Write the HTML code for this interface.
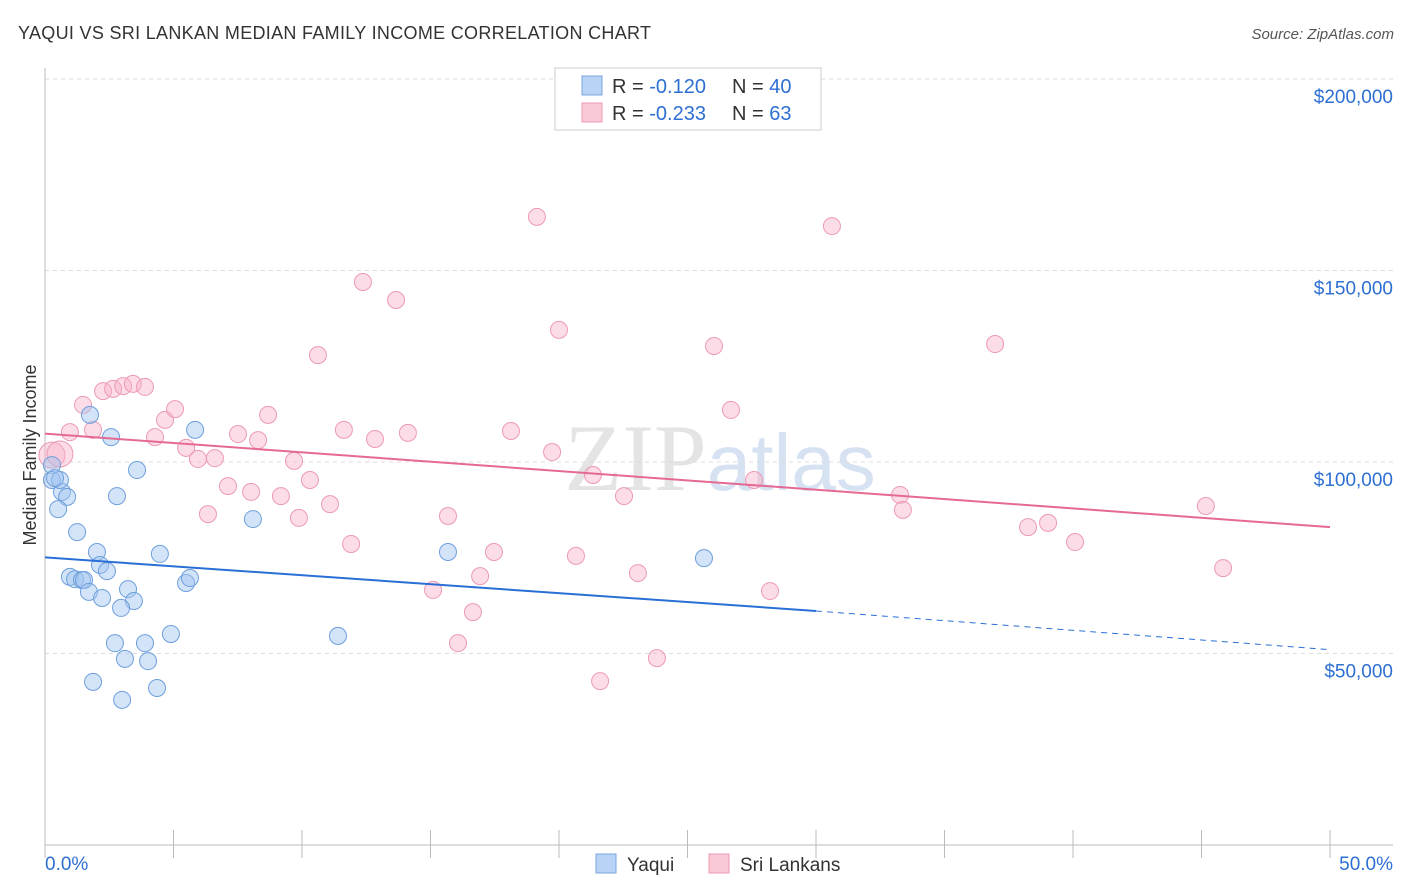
<!DOCTYPE html>
<html><head><meta charset="utf-8"><style>
body{margin:0;background:#fff;font-family:"Liberation Sans",sans-serif}
svg{display:block}
</style></head><body>
<svg id="chart" width="1406" height="892" xmlns="http://www.w3.org/2000/svg">
<text x="18" y="39" font-size="18" fill="#333" textLength="633" lengthAdjust="spacing">YAQUI VS SRI LANKAN MEDIAN FAMILY INCOME CORRELATION CHART</text>
<text x="1394" y="39" font-size="15" fill="#555" text-anchor="end" font-style="italic">Source: ZipAtlas.com</text>
<text x="720" y="490" font-size="95" fill="#e4e4e4" text-anchor="middle" font-family="Liberation Serif,serif">ZIP<tspan fill="#d6e2f2" font-family="Liberation Sans,sans-serif" font-size="80">atlas</tspan></text>
<g id="grid"></g>
<g id="axes"></g>
<g id="pts"></g>
<g id="trend"></g>
<text x="36" y="455" font-size="18" fill="#333" text-anchor="middle" transform="rotate(-90 36 455)">Median Family Income</text>
<g>
<rect x="555" y="68" width="266" height="62" fill="#fff" stroke="#ccc"/>
<rect x="582" y="76" width="20" height="19" fill="#b8d3f5" stroke="#7aa6de"/>
<rect x="582" y="103" width="20" height="19" fill="#fbc8d6" stroke="#eb9ab2"/>
<text x="612" y="93" font-size="20" fill="#333">R = <tspan fill="#2e6fd3">-0.120</tspan><tspan x="732">N = </tspan><tspan fill="#2e6fd3">40</tspan></text>
<text x="612" y="120" font-size="20" fill="#333">R = <tspan fill="#2e6fd3">-0.233</tspan><tspan x="732">N = </tspan><tspan fill="#2e6fd3"> 63</tspan></text>
</g>
<g>
<rect x="596" y="854" width="20" height="19" fill="#b8d3f5" stroke="#7aa6de"/>
<text x="627" y="871" font-size="19" fill="#333">Yaqui</text>
<rect x="709" y="854" width="20" height="19" fill="#fbc8d6" stroke="#eb9ab2"/>
<text x="740" y="871" font-size="19" fill="#333">Sri Lankans</text>
</g>
</svg>
<script>
const yTicks=[50000,100000,150000,200000];
const yTickLabels=["$50,000","$100,000","$150,000","$200,000"];
const xTicks=[0,5,10,15,20,25,30,35,40,45,50];
const xEndLabels=["0.0%","50.0%"];
const yaquiX=[0.27,0.27,0.66,0.86,0.51,1.75,2.57,3.58,2.80,1.25,2.02,2.14,0.97,1.17,1.44,1.52,2.41,1.71,2.22,3.23,3.46,2.96,4.47,5.49,5.64,5.84,8.09,2.72,3.89,4.90,3.11,4.01,1.87,4.36,3.00,11.40,15.68,25.64,0.58,0.39];
const yaquiY=[99200,95300,92200,90900,87700,112300,106500,97900,91100,81700,76500,73100,70000,69400,69200,69200,71500,66100,64500,66800,63700,61900,76000,68400,69700,108400,85100,52700,52700,55100,48600,48000,42600,41000,37900,54600,76500,74900,95300,95800];
const sriX=[0.27,0.58,0.97,1.48,1.87,2.26,2.65,3.04,3.42,3.89,4.28,4.67,5.06,5.49,5.95,6.61,6.34,7.12,7.51,8.02,8.29,8.68,9.18,9.69,9.88,10.31,10.62,11.09,11.63,11.91,12.37,12.84,13.66,14.12,15.10,15.68,16.07,16.65,16.93,17.47,18.13,19.14,19.73,20.00,20.66,21.32,21.60,22.53,23.07,23.81,26.03,26.69,27.59,28.21,30.62,33.27,33.38,36.97,38.25,39.03,40.08,45.17,45.84];
const sriY=[101800,102100,107800,114900,108400,118500,119100,119800,120400,119600,106500,111000,113800,103700,100800,101000,86400,93700,107300,92200,105700,112300,91100,100300,85400,95300,127900,89000,108400,78600,147000,106000,142300,107600,66600,85900,52700,60800,70200,76500,108100,164000,102600,134500,75500,96600,42800,91100,71000,48800,130300,113600,95300,66300,161600,91400,87500,130800,83000,84100,79100,88500,72300];
const yaquiTrend=[75100,61100,51000];
const sriTrend=[107400,83000];
const NS="http://www.w3.org/2000/svg";
const X=p=>45+p/50*1285;
const Y=v=>845-v/50000*191.5;
function mk(t,a,parent){const e=document.createElementNS(NS,t);for(const k in a)e.setAttribute(k,a[k]);document.getElementById(parent).appendChild(e);return e;}
yTicks.forEach((v,i)=>{
  const l=mk('line',{x1:45,x2:1393,y1:Y(v),y2:Y(v),stroke:'#ddd','stroke-dasharray':'4,4'},'grid');
  
  
  const t=mk('text',{x:1393,y:Y(v)+24,'font-size':19,fill:'#2e6fd3','text-anchor':'end'},'grid');
  t.textContent=yTickLabels[i];
  
  
});
mk('line',{x1:45,x2:45,y1:68,y2:845,stroke:'#bbb'},'axes');
mk('line',{x1:45,x2:1393,y1:845,y2:845,stroke:'#bbb'},'axes');
xTicks.forEach(p=>{
  const l=mk('line',{x1:X(p),x2:X(p),y1:830,y2:858,stroke:'#bbb'},'axes');
  
  
});
[[0,'start',45],[50,'end',1393]].forEach((d,i)=>{
  const t=mk('text',{x:d[2],y:870,'font-size':19,fill:'#2e6fd3','text-anchor':d[1]},'axes');
  t.textContent=xEndLabels[i];
  
  
});
sriX.forEach((x,i)=>{
  const c=mk('circle',{cx:X(x),cy:Y(sriY[i]),r:i<2?13:8.5,fill:'rgba(248,180,202,0.45)',stroke:'#ec9ab3','stroke-width':1},'pts');
  
  
});
yaquiX.forEach((x,i)=>{
  const c=mk('circle',{cx:X(x),cy:Y(yaquiY[i]),r:8.5,fill:'rgba(160,196,240,0.45)',stroke:'#6d9fdc','stroke-width':1},'pts');
  
  
});
let l1=mk('line',{x1:X(0),y1:Y(yaquiTrend[0]),x2:X(30),y2:Y(yaquiTrend[1]),stroke:'#2a6fd6','stroke-width':2},'trend');


let l2=mk('line',{x1:X(30),y1:Y(yaquiTrend[1]),x2:X(50),y2:Y(yaquiTrend[2]),stroke:'#2a6fd6','stroke-width':1,'stroke-dasharray':'6,5'},'trend');


let l3=mk('line',{x1:X(0),y1:Y(sriTrend[0]),x2:X(50),y2:Y(sriTrend[1]),stroke:'#e56a93','stroke-width':2},'trend');


</script>
</body></html>
